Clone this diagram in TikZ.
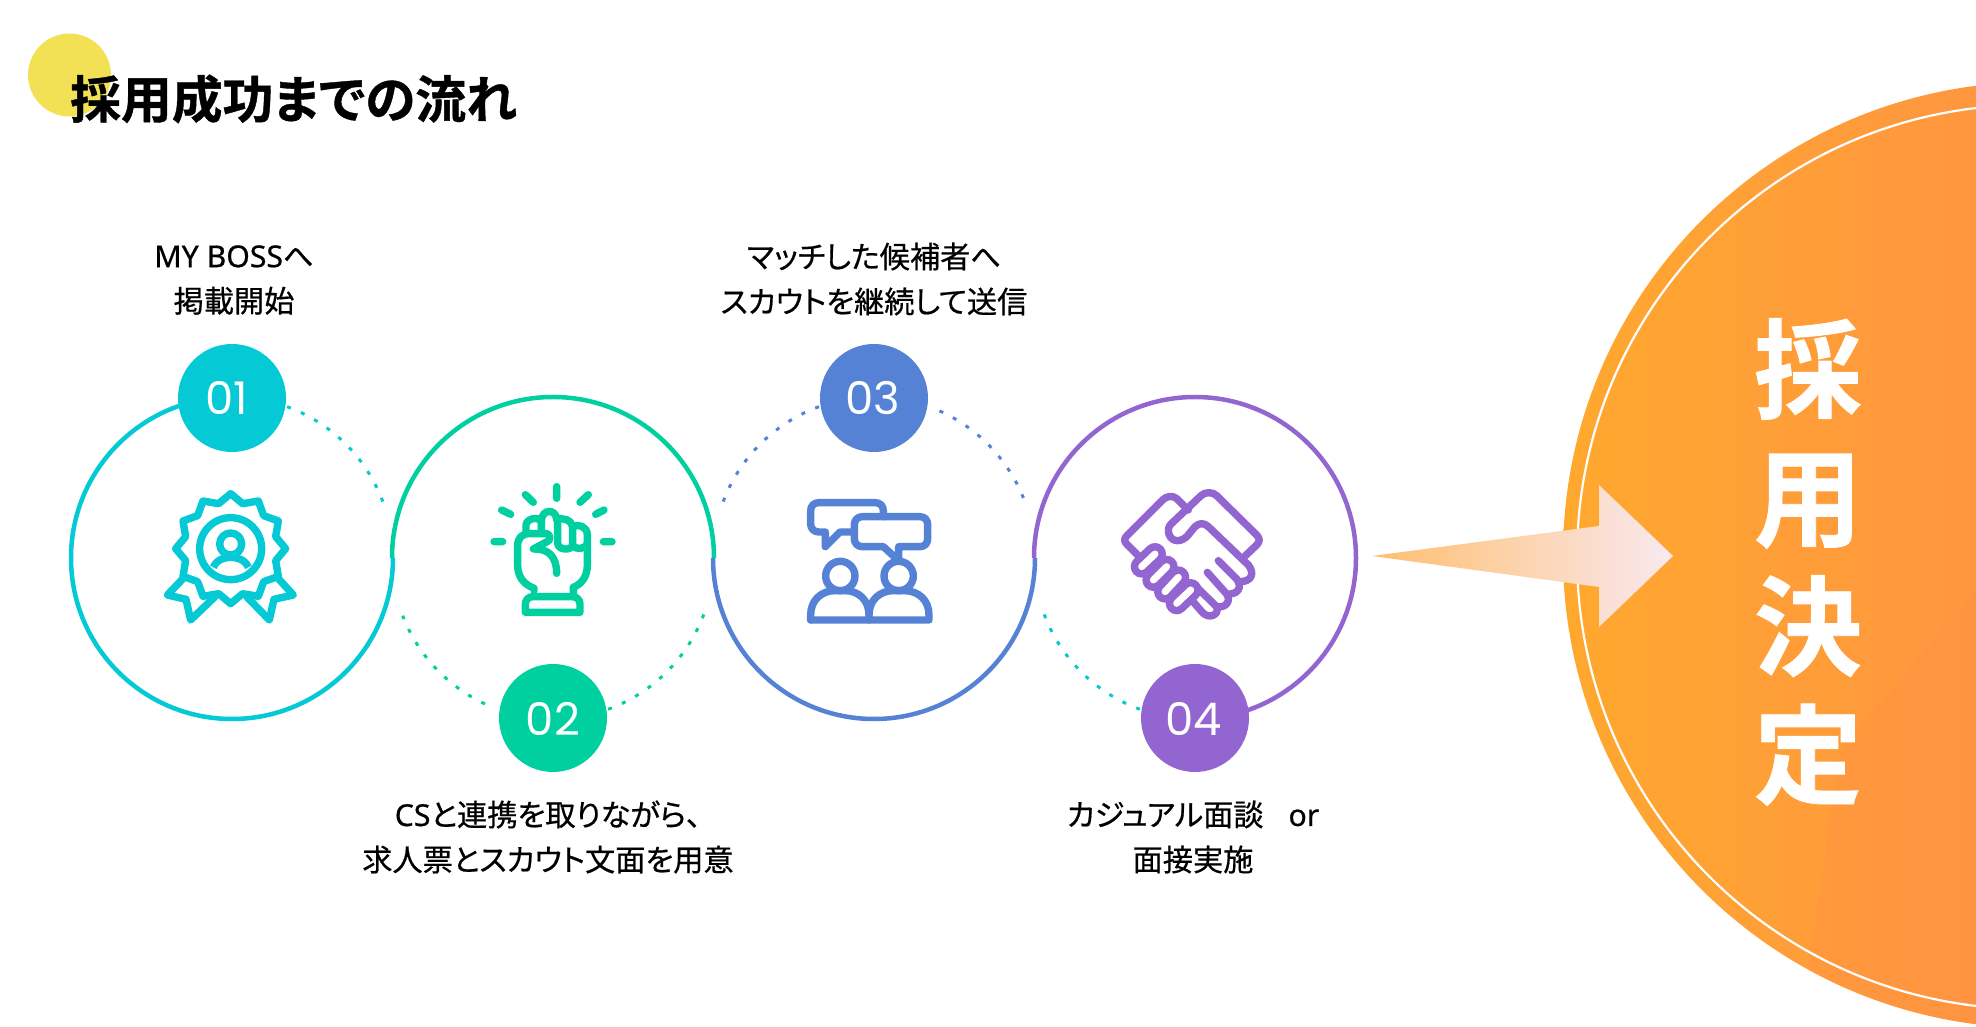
\documentclass[tikz,border=0pt]{standalone}
\usepackage{fontspec}
\setmainfont{Noto Sans CJK JP}[RawFeature=+palt,FakeBold=0.6]
\newfontfamily\boldjp{Noto Sans CJK JP Bold}[RawFeature=+palt,FakeBold=0.8]
\newfontfamily\latn{Noto Sans}[FakeBold=0.6]
\newfontfamily\digits{Poppins}
\newcommand{\numtext}[3]{\raisebox{#3}[0pt][0pt]{\hspace*{#2}#1}}
\definecolor{cOne}{HTML}{05C9D5}
\definecolor{cTwo}{HTML}{00CF9F}
\definecolor{cThree}{HTML}{5682D6}
\definecolor{cFour}{HTML}{9365D0}
\definecolor{sun}{HTML}{F2E155}
\definecolor{orA}{HTML}{FFA82E}
\definecolor{orB}{HTML}{FF9640}
\definecolor{orC}{HTML}{FF8C4A}
\definecolor{arA}{HTML}{FFBE6E}
\definecolor{arB}{HTML}{F9E9F0}
\tikzset{
  ring/.style={line width=4.5pt},
  dots/.style={line width=3pt,dash pattern=on 4pt off 11pt},
  badge/.style={circle,minimum size=108pt,inner sep=0pt,text=white,font=\digits\fontsize{45}{45}\selectfont},
  caption/.style={align=center,inner sep=0pt,font=\fontsize{30.2}{45}\selectfont},
  icon/.style={line width=7.4pt,line join=round,line cap=round},
  zoomed/.style={x=0.33333pt,y=-0.33333pt}
}
\begin{document}
\begin{tikzpicture}[x=1pt,y=1pt]
\clip (0,0) rectangle (1976,1026);
\useasboundingbox (0,0) rectangle (1976,1026);
% title
\fill[sun] (69.5,951) circle[radius=41.5];
\node[inner sep=0pt,anchor=west,font=\boldjp\fontsize{50.8}{52}\selectfont] (title) at (70,927) {採用成功までの流れ};
% big circle
\coordinate (big) at (2036,471);
\begin{scope}
\clip (big) circle[radius=473];
\shade[left color=orA,right color=orB] (1563,0) rectangle (1976,1026);
\fill[orC,opacity=0.22] (1976,436) -- (1840,275) -- (1800,0) -- (1976,0) -- cycle;
\end{scope}
\draw[white,line width=2.2pt] (2029,469) circle[radius=452];
\node[inner sep=0pt,align=center,text=white,font=\boldjp\fontsize{108}{128.5}\selectfont] (kettei) at (1808,464) {採\\用\\決\\定};
% arrow
\shade[left color=arA,right color=arB] (1372,470) -- (1599,500) -- (1599,541) -- (1673,470) -- (1599,399) -- (1599,439) -- cycle;
% rings
\coordinate (c1) at (232,468);
\coordinate (c2) at (553,468);
\coordinate (c3) at (874,468);
\coordinate (c4) at (1195,468);
\draw[ring,cOne] (c1) ++(90:161) arc[start angle=90,end angle=360,radius=161];
\draw[ring,cTwo] (c2) ++(0:161) arc[start angle=0,end angle=180,radius=161];
\draw[ring,cThree] (c3) ++(180:161) arc[start angle=180,end angle=360,radius=161];
\draw[ring,cFour] (c4) ++(-90:161) arc[start angle=-90,end angle=180,radius=161];
\draw[dots,cOne] (c1) ++(70:161) arc[start angle=70,end angle=20,radius=161];
\draw[dots,cTwo] (c2) ++(245:161) arc[start angle=245,end angle=201,radius=161];
\draw[dots,cTwo] (c2) ++(290:161) arc[start angle=290,end angle=340,radius=161];
\draw[dots,cThree] (c3) ++(110:161) arc[start angle=110,end angle=160,radius=161];
\draw[dots,cThree] (c3) ++(66:161) arc[start angle=66,end angle=21,radius=161];
\draw[dots,cOne] (c4) ++(250:161) arc[start angle=250,end angle=200,radius=161];
% badges
\node[badge,fill=cOne] (b1) at (232,628) {\numtext{01}{-10pt}{-16.7pt}};
\node[badge,fill=cTwo] (b2) at (553,308) {\numtext{02}{0pt}{-17.7pt}};
\node[badge,fill=cThree] (b3) at (874,628) {\numtext{03}{-3pt}{-16.7pt}};
\node[badge,fill=cFour] (b4) at (1195,308) {\numtext{04}{-3pt}{-17.7pt}};
% captions
\node[caption] (t1) at (234,746) {{\latn MY BOSS}へ\\掲載開始};
\node[caption] (t2) at (548,189) {{\latn CS}と連携を取りながら、\\求人票とスカウト文面を用意};
\node[caption] (t3) at (874,747) {マッチした候補者へ\\スカウトを継続して送信};
\node[caption] (t4) at (1193,189) {カジュアル面談\hspace{25pt}{\latn or}\\面接実施};
% icon 1
\begin{scope}[shift={(50,706)},zoomed]
\draw[icon,cOne] (542,521)--(578,551)--(625,543)--(641,587)--(685,603)--(677,650)--(707,686)--(677,722)--(685,769)--(641,785)--(625,829)--(578,821)--(542,851)--(506,821)--(459,829)--(443,785)--(399,769)--(407,722)--(377,686)--(407,650)--(399,603)--(443,587)--(459,543)--(506,551)--cycle;
\draw[icon,cOne] (397,778)--(352,825)--(408,838)--(422,900)--(495,830);
\draw[icon,cOne] (687,778)--(730,825)--(672,838)--(658,900)--(590,830);
\draw[icon,cOne] (542,686) circle[radius=93];
\draw[icon,cOne] (542,672) circle[radius=33];
\draw[icon,cOne,line cap=butt] (490,742) .. controls (500,718) and (525,712) .. (542,712) .. controls (560,712) and (585,718) .. (595,742);
\end{scope}
% icon 2
\begin{scope}[shift={(380,646)},zoomed]
\draw[icon,cTwo] (530,320)--(530,355) (436,344)--(460,367) (625,344)--(600,367) (365,390)--(392,403) (672,390)--(647,403) (342,485)--(368,485) (670,485)--(696,485);
\draw[icon,cTwo] (462,632) -- (462,625) .. controls (430,612) and (413,590) .. (413,555) -- (413,497) .. controls (413,475) and (425,461) .. (448,461) -- (500,461) .. controls (510,461) and (512,480) .. (505,483) -- (460,507) .. controls (505,505) and (530,530) .. (530,580);
\draw[icon,cTwo] (438,461) -- (438,435) .. controls (438,420) and (470,405) .. (484,425) .. controls (484,385) and (530,385) .. (530,420) .. controls (545,410) and (575,420) .. (578,440) .. controls (595,430) and (622,440) .. (622,465) -- (622,555) .. controls (622,590) and (605,612) .. (580,622) -- (580,650);
\draw[icon,cTwo] (484,425) -- (484,461) (533,425) -- (533,490) .. controls (535,512) and (575,512) .. (578,495) -- (578,440) (578,495) .. controls (585,510) and (615,510) .. (622,490);
\draw[icon,cTwo] (436,697) -- (600,697) -- (600,672) .. controls (600,660) and (590,650) .. (578,650) -- (458,650) .. controls (446,650) and (436,660) .. (436,672) -- cycle;
\end{scope}
% icon 3
\begin{scope}[shift={(720,706)},zoomed]
\draw[icon,cThree] (490,590) -- (490,572) .. controls (490,558) and (480,548) .. (466,548) -- (296,548) .. controls (282,548) and (272,558) .. (272,572) -- (272,612) .. controls (272,626) and (282,636) .. (296,636) -- (316,636) -- (316,680) -- (360,636) -- (403,636);
\draw[icon,cThree] (427,590) -- (600,590) .. controls (614,590) and (623,600) .. (623,614) -- (623,656) .. controls (623,670) and (614,680) .. (600,680) -- (536,680) -- (536,722) -- (490,680) -- (427,680) .. controls (413,680) and (403,670) .. (403,656) -- (403,614) .. controls (403,600) and (413,590) .. (427,590) -- cycle;
\draw[icon,cThree] (361,768) circle[radius=44];
\draw[icon,cThree] (536,768) circle[radius=44];
\draw[icon,cThree] (272,900) -- (272,885) .. controls (272,840) and (305,812) .. (345,812) -- (375,812) .. controls (415,812) and (447,840) .. (447,885) -- (447,900);
\draw[icon,cThree] (447,885) .. controls (447,840) and (480,812) .. (520,812) -- (552,812) .. controls (595,812) and (627,840) .. (627,885) -- (627,900) -- (272,900);
\end{scope}
% icon 4
\begin{scope}[shift={(1060,646)},zoomed]
\draw[icon,cFour] (235,527) -- (200,492) .. controls (192,484) and (192,476) .. (200,468) -- (310,358) .. controls (320,348) and (340,346) .. (350,356) -- (385,390);
\draw[icon,cFour] (550,533) -- (590,495) .. controls (600,485) and (600,475) .. (590,465) -- (470,347) .. controls (458,335) and (435,335) .. (423,347) -- (332,433) .. controls (318,447) and (326,482) .. (352,482) .. controls (365,482) and (375,475) .. (382,468) -- (405,440) .. controls (418,428) and (432,428) .. (445,440) -- (565,555) .. controls (585,580) and (575,605) .. (540,605);
\draw[icon,cFour] (475,542) -- (530,597) .. controls (550,625) and (530,645) .. (500,642) -- (442,577);
\draw[icon,cFour] (500,642) .. controls (515,665) and (495,685) .. (470,680) -- (400,612);
\draw[icon,cFour] (402,668) -- (425,695) .. controls (445,720) and (480,705) .. (470,680);
\foreach \ax/\ay/\bx/\by in {245/560/285/522, 280/600/320/560, 315/635/355/592, 350/670/392/630} {
  \draw[cFour,line width=22pt,line cap=round] (\ax,\ay) -- (\bx,\by);
  \draw[white,line width=7pt,line cap=round] (\ax,\ay) -- (\bx,\by);
}
\end{scope}
\end{tikzpicture}
\end{document}
